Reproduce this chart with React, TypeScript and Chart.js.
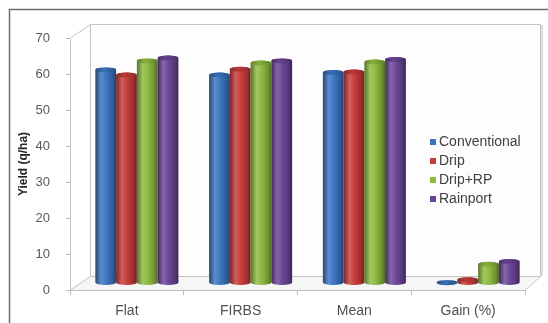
import React, { useEffect, useRef } from 'react';
import { Chart, registerables } from 'chart.js';

Chart.register(...registerables);

const categories = ['Flat', 'FIRBS', 'Mean', 'Gain (%)'];
const seriesNames = ['Conventional', 'Drip', 'Drip+RP', 'Rainport'];
const conventional = [59.2, 57.8, 58.5, 0.1];
const drip = [57.8, 59.4, 58.6, 0.9];
const dripRP = [61.7, 61.1, 61.4, 5.2];
const rainport = [62.5, 61.7, 62.1, 6.0];
const seriesColors = ['#3b74c0', '#c63c3a', '#8cbb3f', '#6a4597'];
const yMin = 0;
const yMax = 70;
const yStep = 10;
const yTitle = 'Yield (q/ha)';

const FONT = '"Liberation Sans", Arial, sans-serif';

function shade(hex: string, f: number): string {
  const n = parseInt(hex.slice(1), 16);
  let r = (n >> 16) & 255, g = (n >> 8) & 255, b = n & 255;
  if (f <= 1) {
    r *= f; g *= f; b *= f;
  } else {
    const t = f - 1;
    r = r + (255 - r) * t; g = g + (255 - g) * t; b = b + (255 - b) * t;
  }
  return `rgb(${Math.round(r)},${Math.round(g)},${Math.round(b)})`;
}

function drawCylinder(ctx: CanvasRenderingContext2D, cx: number, top: number, bottom: number, w: number, color: string) {
  const rx = w / 2;
  const ry = 2.5;
  const g = ctx.createLinearGradient(cx - rx, 0, cx + rx, 0);
  g.addColorStop(0, shade(color, 0.62));
  g.addColorStop(0.28, shade(color, 1.18));
  g.addColorStop(0.55, color);
  g.addColorStop(0.85, shade(color, 0.78));
  g.addColorStop(1, shade(color, 0.55));
  ctx.save();
  ctx.beginPath();
  ctx.moveTo(cx - rx, top);
  ctx.lineTo(cx - rx, bottom);
  ctx.ellipse(cx, bottom, rx, ry, 0, Math.PI, 0, true);
  ctx.lineTo(cx + rx, top);
  ctx.ellipse(cx, top, rx, ry, 0, 0, Math.PI, true);
  ctx.closePath();
  ctx.fillStyle = g;
  ctx.fill();
  const g2 = ctx.createLinearGradient(cx - rx, 0, cx + rx, 0);
  g2.addColorStop(0, shade(color, 0.7));
  g2.addColorStop(0.4, shade(color, 0.95));
  g2.addColorStop(1, shade(color, 0.7));
  ctx.beginPath();
  ctx.ellipse(cx, top, rx, ry, 0, 0, Math.PI * 2);
  ctx.fillStyle = g2;
  ctx.fill();
  ctx.restore();
}

const DEPTH_DX = 20;
const DEPTH_DY = -14;
const RIGHT_DX = 15;
const BAR_DX = 10;
const BAR_DY = -7;

const plugin3d = {
  id: 'plugin3d',
  beforeDraw(chart: any) {
    const ctx = chart.ctx as CanvasRenderingContext2D;
    ctx.save();
    ctx.fillStyle = '#ffffff';
    ctx.fillRect(0, 0, chart.width, chart.height);
    ctx.strokeStyle = '#6e6e6e';
    ctx.lineWidth = 1.5;
    ctx.beginPath();
    ctx.moveTo(9.5, chart.height);
    ctx.lineTo(9.5, 9.5);
    ctx.lineTo(chart.width, 9.5);
    ctx.stroke();
    ctx.restore();
  },
  beforeDatasetsDraw(chart: any) {
    const ctx = chart.ctx as CanvasRenderingContext2D;
    const ca = chart.chartArea;
    const L = ca.left, R = ca.right, T = ca.top, B = ca.bottom;
    const bL = L + DEPTH_DX, bR = R + RIGHT_DX, bT = T + DEPTH_DY, bB = B + DEPTH_DY;
    ctx.save();
    ctx.fillStyle = '#fdfdfd';
    ctx.fillRect(bL, bT, bR - bL, bB - bT);
    ctx.beginPath();
    ctx.moveTo(L, B); ctx.lineTo(R, B); ctx.lineTo(bR, bB); ctx.lineTo(bL, bB); ctx.closePath();
    ctx.fillStyle = '#f6f6f6';
    ctx.fill();
    ctx.strokeStyle = '#c4c4c4';
    ctx.lineWidth = 1;
    ctx.beginPath();
    ctx.moveTo(L + 0.5, T); ctx.lineTo(bL + 0.5, bT + 0.5);
    ctx.lineTo(bR + 0.5, bT + 0.5);
    ctx.lineTo(bR + 0.5, bB + 0.5);
    ctx.lineTo(bL + 0.5, bB + 0.5);
    ctx.lineTo(L + 0.5, B);
    ctx.moveTo(bL + 0.5, bT + 0.5); ctx.lineTo(bL + 0.5, bB + 0.5);
    ctx.moveTo(R, B + 0.5); ctx.lineTo(bR + 0.5, bB + 0.5);
    ctx.stroke();
    ctx.strokeStyle = '#dcdcdc';
    ctx.lineWidth = 2;
    ctx.beginPath();
    ctx.moveTo(bR + 2, bT + 1); ctx.lineTo(bR + 2, bB);
    ctx.stroke();
    ctx.restore();
  },
  afterDatasetsDraw(chart: any) {
    const ctx = chart.ctx as CanvasRenderingContext2D;
    const n = chart.data.labels.length;
    for (let i = 0; i < n; i++) {
      chart.data.datasets.forEach((ds: any, di: number) => {
        const meta = chart.getDatasetMeta(di);
        const el: any = meta.data[i];
        if (!el) return;
        const p = el.getProps(['x', 'y', 'base', 'width'], true);
        drawCylinder(ctx, p.x + BAR_DX, p.y + BAR_DY, p.base + BAR_DY, p.width, ds.cylColor);
      });
    }
    const lx = 430;
    const ly0 = 142;
    const lstep = 19;
    ctx.save();
    ctx.font = `14px ${FONT}`;
    ctx.textBaseline = 'middle';
    ctx.textAlign = 'left';
    chart.data.datasets.forEach((ds: any, di: number) => {
      const y = ly0 + di * lstep;
      ctx.fillStyle = ds.cylColor;
      ctx.fillRect(lx, y - 3, 6, 6);
      ctx.fillStyle = '#404040';
      ctx.fillText(ds.label, lx + 9, y);
    });
    ctx.restore();
  },
};

export default function App() {
  const ref = useRef<HTMLCanvasElement | null>(null);
  useEffect(() => {
    if (!ref.current) return;
    const seriesValues = [conventional, drip, dripRP, rainport];
    const chart = new Chart(ref.current, {
      type: 'bar',
      data: {
        labels: categories,
        datasets: seriesNames.map((name, i) => ({
          label: name,
          data: seriesValues[i],
          backgroundColor: 'rgba(0,0,0,0)',
          borderWidth: 0,
          cylColor: seriesColors[i],
          categoryPercentage: 0.73,
          barPercentage: 1.0,
        })) as any,
      },
      options: {
        responsive: false,
        animation: false,
        layout: { padding: { left: 0, top: 38, right: 23, bottom: 0 } },
        plugins: {
          legend: { display: false },
          tooltip: { enabled: false },
        },
        scales: {
          x: {
            afterFit: (s: any) => { s.height = 33; },
            grid: { drawOnChartArea: false, drawTicks: true, tickLength: 5, color: '#bdbdbd', offset: true },
            border: { display: true, color: '#bdbdbd' },
            ticks: { color: '#505050', font: { family: FONT, size: 14 }, padding: 8 },
          },
          y: {
            min: yMin,
            max: yMax,
            afterFit: (s: any) => { s.width = 70; },
            grid: { drawOnChartArea: false, drawTicks: true, tickLength: 4, color: '#bdbdbd' },
            border: { display: true, color: '#c4c4c4' },
            ticks: { stepSize: yStep, color: '#595959', font: { family: FONT, size: 13 }, padding: 16 },
            title: {
              display: true,
              text: yTitle,
              color: '#262626',
              font: { family: FONT, size: 12, weight: 'bold' },
              padding: { top: 16, bottom: 0 },
            },
          },
        },
      },
      plugins: [plugin3d],
    });
    return () => chart.destroy();
  }, []);
  return (
    <div style={{ position: 'fixed', left: 0, top: 0, width: 548, height: 323 }}>
      <canvas ref={ref} width={548} height={323} style={{ display: 'block' }} />
    </div>
  );
}
